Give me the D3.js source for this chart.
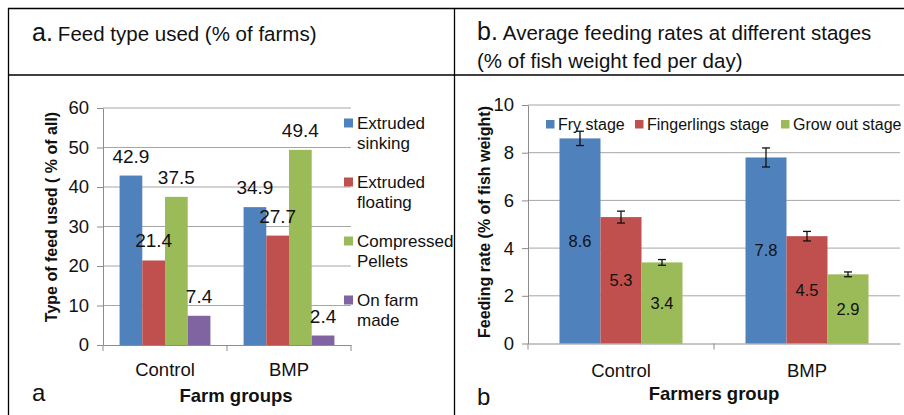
<!DOCTYPE html>
<html>
<head>
<meta charset="utf-8">
<script src="https://cdn.jsdelivr.net/npm/d3@7"></script>
<style>
  html, body { margin: 0; padding: 0; background: #fff; }
  svg { display: block; font-family: "Liberation Sans", Arial, Helvetica, sans-serif; }
</style>
</head>
<body>
<svg id="chart" width="904" height="415"></svg>
<script>
// ---------- Data ----------
const groupsA = ["Control", "BMP"];
const seriesA = ["Extruded sinking", "Extruded floating", "Compressed Pellets", "On farm made"];
const legendLinesA = [["Extruded", "sinking"], ["Extruded", "floating"], ["Compressed", "Pellets"], ["On farm", "made"]];
const extrudedSinking = [42.9, 34.9];
const extrudedFloating = [21.4, 27.7];
const compressedPellets = [37.5, 49.4];
const onFarmMade = [7.4, 2.4];
const ticksA = [0, 10, 20, 30, 40, 50, 60];

const groupsB = ["Control", "BMP"];
const seriesB = ["Fry stage", "Fingerlings stage", "Grow out stage"];
const fryStage = [8.6, 7.8];
const fingerlingsStage = [5.3, 4.5];
const growOutStage = [3.4, 2.9];
const fryErr = [0.3, 0.4];
const fingerlingsErr = [0.25, 0.2];
const growOutErr = [0.12, 0.1];
const ticksB = [0, 2, 4, 6, 8, 10];

const colors = ["#4F81BD", "#C0504D", "#9BBB59", "#8064A2"];
const gridColor = "#A6A6A6";
const axisColor = "#8C8C8C";

const svg = d3.select("#chart");

// ---------- Frame ----------
const frame = svg.append("g").attr("stroke", "#000").attr("stroke-width", 1.3);
frame.append("line").attr("x1", 8).attr("x2", 904).attr("y1", 8.5).attr("y2", 8.5);
frame.append("line").attr("x1", 8.5).attr("x2", 8.5).attr("y1", 8).attr("y2", 415);
frame.append("line").attr("x1", 454.5).attr("x2", 454.5).attr("y1", 8).attr("y2", 415);
frame.append("line").attr("x1", 8).attr("x2", 904).attr("y1", 75).attr("y2", 75);

// ---------- Titles ----------
const tA = svg.append("text").attr("x", 32).attr("y", 41).attr("fill", "#111");
tA.append("tspan").attr("font-size", 25).text("a.");
tA.append("tspan").attr("font-size", 20.5).attr("dx", 5).text("Feed type used (% of farms)");

const tB = svg.append("text").attr("x", 477).attr("y", 40).attr("fill", "#111");
tB.append("tspan").attr("font-size", 25).text("b.");
tB.append("tspan").attr("font-size", 20.5).attr("dx", 5).text("Average feeding rates at different stages");
svg.append("text").attr("x", 477).attr("y", 68).attr("font-size", 20.5).attr("fill", "#111")
  .text("(% of fish weight fed per day)");

// ---------- Chart A ----------
const valuesA = [extrudedSinking, extrudedFloating, compressedPellets, onFarmMade];
const xA = d3.scaleBand().domain(groupsA).range([103, 351]).paddingInner(0).paddingOuter(0);
const x1A = d3.scaleBand().domain(seriesA).range([0, xA.bandwidth()]).paddingInner(0).paddingOuter(0.73);
const yA = d3.scaleLinear().domain([0, 60]).range([345, 108]);

const gA = svg.append("g");
gA.selectAll("line.grid").data(ticksA.filter(d => d > 0)).join("line")
  .attr("x1", 103).attr("x2", 351).attr("y1", d => yA(d)).attr("y2", d => yA(d))
  .attr("stroke", gridColor).attr("stroke-width", 1);

const barsA = gA.append("g");
const labelsA = gA.append("g");
seriesA.forEach((s, si) => {
  const data = groupsA.map((g, gi) => ({ g, v: valuesA[si][gi] }));
  barsA.selectAll(null).data(data).join("rect")
    .attr("x", d => xA(d.g) + x1A(s))
    .attr("width", x1A.bandwidth())
    .attr("y", d => yA(d.v))
    .attr("height", d => yA(0) - yA(d.v))
    .attr("fill", colors[si]);
  labelsA.selectAll(null).data(data).join("text")
    .attr("x", d => xA(d.g) + x1A(s) + x1A.bandwidth() / 2)
    .attr("y", d => yA(d.v) - 13)
    .attr("text-anchor", "middle").attr("font-size", 19).attr("fill", "#111")
    .text(d => d.v.toFixed(1));
});

const yAxisA = d3.axisLeft(yA).tickValues(ticksA).tickSize(6).tickPadding(8).tickSizeOuter(0);
const yAxA = gA.append("g").attr("transform", "translate(103,0)").call(yAxisA);
yAxA.selectAll("text").attr("font-size", 18.5).attr("fill", "#111").attr("font-family", null);
yAxA.selectAll("line,path").attr("stroke", axisColor);

const xAxisA = d3.axisBottom(xA).tickSize(0).tickPadding(18);
const xAxA = gA.append("g").attr("transform", `translate(0,${yA(0)})`).call(xAxisA);
xAxA.select(".domain").attr("stroke", axisColor);
xAxA.selectAll("text").attr("font-size", 18.5).attr("fill", "#111").attr("font-family", null);
[103, 227, 351].forEach(x => gA.append("line").attr("x1", x).attr("x2", x)
  .attr("y1", yA(0)).attr("y2", yA(0) + 6).attr("stroke", axisColor));

legendLinesA.forEach((lines, i) => {
  const y0 = 123 + i * 59;
  gA.append("rect").attr("x", 344).attr("y", y0 - 4.5).attr("width", 9).attr("height", 9).attr("fill", colors[i]);
  lines.forEach((ln, j) => {
    gA.append("text").attr("x", 357).attr("y", y0 + 6 + j * 20).attr("font-size", 17).attr("fill", "#111").text(ln);
  });
});

svg.append("text").attr("transform", "translate(57,217) rotate(-90)").attr("text-anchor", "middle")
  .attr("font-size", 16).attr("font-weight", "bold").attr("fill", "#111").text("Type of feed used ( % of all)");
svg.append("text").attr("x", 236).attr("y", 402).attr("text-anchor", "middle")
  .attr("font-size", 18.5).attr("font-weight", "bold").attr("fill", "#111").text("Farm groups");
svg.append("text").attr("x", 32).attr("y", 401).attr("font-size", 24).attr("fill", "#111").text("a");

// ---------- Chart B ----------
const valuesB = [fryStage, fingerlingsStage, growOutStage];
const errsB = [fryErr, fingerlingsErr, growOutErr];
const xB = d3.scaleBand().domain(groupsB).range([528, 900]).paddingInner(0).paddingOuter(0);
const x1B = d3.scaleBand().domain(seriesB).range([0, xB.bandwidth()]).paddingInner(0).paddingOuter(0.768);
const yB = d3.scaleLinear().domain([0, 10]).range([343.5, 105]);

const gB = svg.append("g");
gB.selectAll("line.grid").data(ticksB.filter(d => d > 0)).join("line")
  .attr("x1", 528).attr("x2", 900).attr("y1", d => yB(d)).attr("y2", d => yB(d))
  .attr("stroke", gridColor).attr("stroke-width", 1);

const barsB = gB.append("g");
const labelsB = gB.append("g");
seriesB.forEach((s, si) => {
  const data = groupsB.map((g, gi) => ({ g, v: valuesB[si][gi], e: errsB[si][gi] }));
  barsB.selectAll(null).data(data).join("rect")
    .attr("x", d => xB(d.g) + x1B(s))
    .attr("width", x1B.bandwidth())
    .attr("y", d => yB(d.v))
    .attr("height", d => yB(0) - yB(d.v))
    .attr("fill", colors[si]);
  labelsB.selectAll(null).data(data).join("text")
    .attr("x", d => xB(d.g) + x1B(s) + x1B.bandwidth() / 2)
    .attr("y", d => (yB(d.v) + yB(0)) / 2)
    .attr("dy", "0.36em")
    .attr("text-anchor", "middle").attr("font-size", 16.5).attr("fill", "#111")
    .text(d => d.v.toFixed(1));
  data.forEach(d => {
    const cx = xB(d.g) + x1B(s) + x1B.bandwidth() / 2;
    const eg = labelsB.append("g").attr("stroke", "#111").attr("stroke-width", 1.3);
    eg.append("line").attr("x1", cx).attr("x2", cx).attr("y1", yB(d.v + d.e)).attr("y2", yB(d.v - d.e));
    eg.append("line").attr("x1", cx - 4).attr("x2", cx + 4).attr("y1", yB(d.v + d.e)).attr("y2", yB(d.v + d.e));
    eg.append("line").attr("x1", cx - 4).attr("x2", cx + 4).attr("y1", yB(d.v - d.e)).attr("y2", yB(d.v - d.e));
  });
});

const yAxisB = d3.axisLeft(yB).tickValues(ticksB).tickSize(6).tickPadding(8).tickSizeOuter(0);
const yAxB = gB.append("g").attr("transform", "translate(528,0)").call(yAxisB);
yAxB.selectAll("text").attr("font-size", 18.5).attr("fill", "#111").attr("font-family", null);
yAxB.selectAll("line,path").attr("stroke", axisColor);

const xAxisB = d3.axisBottom(xB).tickSize(0).tickPadding(20);
const xAxB = gB.append("g").attr("transform", `translate(0,${yB(0)})`).call(xAxisB);
xAxB.select(".domain").attr("stroke", axisColor);
xAxB.selectAll("text").attr("font-size", 18.5).attr("fill", "#111").attr("font-family", null);
[528, 714].forEach(x => gB.append("line").attr("x1", x).attr("x2", x)
  .attr("y1", yB(0)).attr("y2", yB(0) + 6).attr("stroke", axisColor));

const legendXB = [546, 635, 781];
seriesB.forEach((s, i) => {
  gB.append("rect").attr("x", legendXB[i]).attr("y", 120).attr("width", 8.5).attr("height", 8.5).attr("fill", colors[i]);
  gB.append("text").attr("x", legendXB[i] + 12).attr("y", 130).attr("font-size", 16).attr("fill", "#111").text(s);
});

svg.append("text").attr("transform", "translate(490,222) rotate(-90)").attr("text-anchor", "middle")
  .attr("font-size", 16).attr("font-weight", "bold").attr("fill", "#111").text("Feeding rate (% of fish weight)");
svg.append("text").attr("x", 714).attr("y", 400).attr("text-anchor", "middle")
  .attr("font-size", 18.5).attr("font-weight", "bold").attr("fill", "#111").text("Farmers group");
svg.append("text").attr("x", 477).attr("y", 405).attr("font-size", 24).attr("fill", "#111").text("b");
</script>
</body>
</html>
